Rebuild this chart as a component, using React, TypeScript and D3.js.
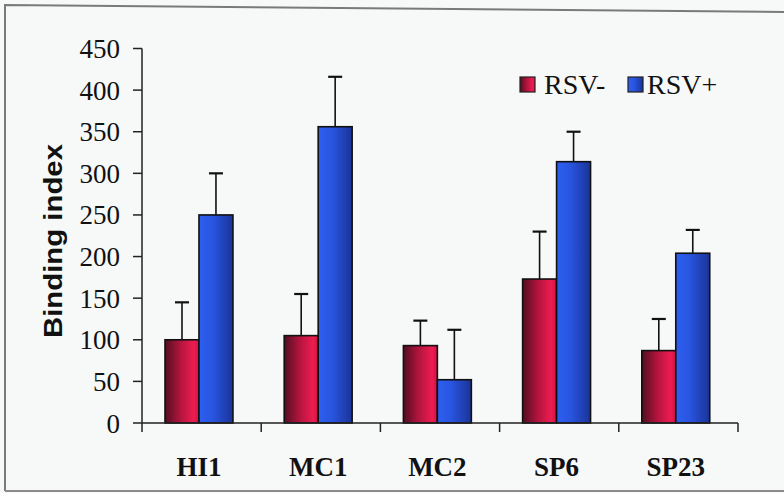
import React from "react";
import * as d3 from "d3";

const categories = ["HI1", "MC1", "MC2", "SP6", "SP23"];
const seriesNames = ["RSV-", "RSV+"];
const rsvNeg = [100, 105, 93, 173, 87];
const rsvNegErr = [45, 50, 30, 57, 38];
const rsvPos = [250, 356, 52, 314, 204];
const rsvPosErr = [50, 60, 60, 36, 28];
const yTicks = [0, 50, 100, 150, 200, 250, 300, 350, 400, 450];

const W = 784;
const H = 493;

export default function App() {
  const y = d3.scaleLinear().domain([0, 450]).range([423, 48.5]);
  const x = d3.scaleBand<string>().domain(categories).range([142, 738]).padding(0);
  const bw = x.bandwidth();
  const x1 = d3
    .scaleBand<string>()
    .domain(seriesNames)
    .range([bw * 0.193, bw * 0.763])
    .padding(0);
  const sw = x1.bandwidth();

  const series = [
    { name: "RSV-", vals: rsvNeg, errs: rsvNegErr, fill: "url(#gradRed)" },
    { name: "RSV+", vals: rsvPos, errs: rsvPosErr, fill: "url(#gradBlue)" },
  ];

  const serif = "'Liberation Serif', 'Times New Roman', serif";
  const sans = "'Liberation Sans', Arial, sans-serif";

  return (
    <svg
      width={W}
      height={H}
      style={{ position: "absolute", left: 0, top: 0, display: "block" }}
    >
      <defs>
        <linearGradient id="gradRed" x1="0" x2="1" y1="0" y2="0">
          <stop offset="0" stopColor="#520e20" />
          <stop offset="0.45" stopColor="#b2143e" />
          <stop offset="0.85" stopColor="#ee1c50" />
          <stop offset="1" stopColor="#cc1444" />
        </linearGradient>
        <linearGradient id="gradBlue" x1="0" x2="1" y1="0" y2="0">
          <stop offset="0" stopColor="#2d5ff0" />
          <stop offset="0.4" stopColor="#2955e0" />
          <stop offset="1" stopColor="#1a3398" />
        </linearGradient>
      </defs>
      <rect x={0} y={0} width={W} height={H} fill="#f7f8f8" />
      {/* frame */}
      <path
        d={`M5,491 L5,5 L${W},12`}
        fill="none"
        stroke="#7a7a7a"
        strokeWidth={2}
      />
      <line x1={5} x2={W} y1={491} y2={491} stroke="#8a8a8a" strokeWidth={2} />

      {/* bars */}
      {categories.map((c, i) => (
        <g key={c} transform={`translate(${x(c)},0)`}>
          {series.map((s) => {
            const bx = x1(s.name)!;
            const top = y(s.vals[i]);
            const cx = bx + sw / 2;
            const et = y(s.vals[i] + s.errs[i]);
            return (
              <g key={s.name}>
                <line x1={cx} x2={cx} y1={top} y2={et} stroke="#111" strokeWidth={1.6} />
                <line x1={cx - 7} x2={cx + 7} y1={et} y2={et} stroke="#111" strokeWidth={2.2} />
                <rect
                  x={bx}
                  y={top}
                  width={sw}
                  height={y(0) - top}
                  fill={s.fill}
                  stroke="#111"
                  strokeWidth={1.6}
                />
              </g>
            );
          })}
        </g>
      ))}

      {/* y axis */}
      <line x1={142} x2={142} y1={y(450)} y2={y(0)} stroke="#222" strokeWidth={1.5} />
      {yTicks.map((t) => (
        <g key={t}>
          <line x1={133} x2={142} y1={y(t)} y2={y(t)} stroke="#222" strokeWidth={1.5} />
          <text
            x={120}
            y={y(t) + 9.5}
            textAnchor="end"
            fontFamily={serif}
            fontSize={27}
            fill="#111"
          >
            {t}
          </text>
        </g>
      ))}

      {/* x axis */}
      <line x1={142} x2={738} y1={y(0)} y2={y(0)} stroke="#222" strokeWidth={1.5} />
      {[...categories.map((c) => x(c)!), 738].map((p, i) => (
        <line key={i} x1={p} x2={p} y1={y(0)} y2={y(0) + 9} stroke="#222" strokeWidth={1.5} />
      ))}
      {categories.map((c) => (
        <text
          key={c}
          x={x(c)! + (bw * 0.193 + bw * 0.763) / 2}
          y={476}
          textAnchor="middle"
          fontFamily={serif}
          fontWeight="bold"
          fontSize={27}
          fill="#111"
        >
          {c}
        </text>
      ))}

      {/* y label */}
      <text
        transform="translate(62,241) rotate(-90)"
        textAnchor="middle"
        fontFamily={sans}
        fontWeight="bold"
        fontSize={25}
        textLength={194}
        lengthAdjust="spacingAndGlyphs"
        fill="#111"
      >
        Binding index
      </text>

      {/* legend */}
      <rect x={520} y={77} width={15} height={15} fill="url(#gradRed)" stroke="#222" strokeWidth={1.2} />
      <text x={544} y={94} fontFamily={serif} fontSize={28} fill="#111">
        RSV-
      </text>
      <rect x={628} y={77} width={15} height={15} fill="url(#gradBlue)" stroke="#222" strokeWidth={1.2} />
      <text x={647} y={94} fontFamily={serif} fontSize={28} fill="#111">
        RSV+
      </text>
    </svg>
  );
}
